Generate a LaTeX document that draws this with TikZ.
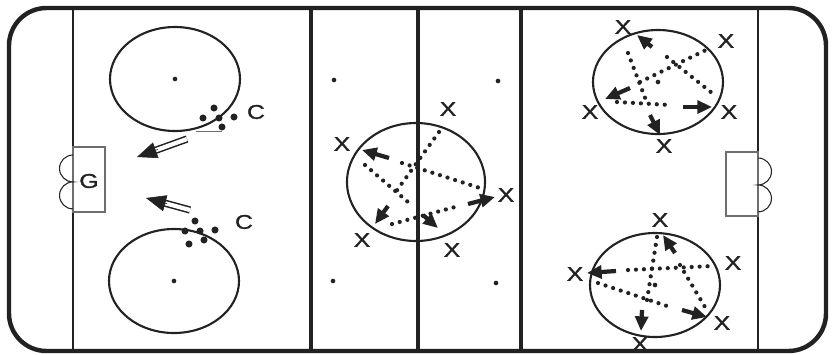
\documentclass[tikz,border=0pt]{standalone}
\usepackage{fontspec}
\setmainfont{Liberation Sans}
\newfontfamily\markfont{Liberation Sans}[FakeBold=1.2]
\usetikzlibrary{arrows.meta, calc}

\definecolor{ink}{HTML}{222222}
\definecolor{boxgray}{HTML}{6E6E6E}

\begin{document}
\begin{tikzpicture}[x=0.03cm, y=-0.03cm, thick,
    player/.style={font=\markfont\fontsize{17}{17}\selectfont, xscale=1.25, text=ink, inner sep=0pt},
    pass/.style={ink, line width=3.6pt, line cap=round, dash pattern=on 0pt off 6.8pt},
    skate/.style={ink, line width=3.6pt, -{Triangle[length=12.5pt, width=11pt]}},
    faceoff/.style={ink, line width=1.8pt},
    spot/.style={fill=ink, draw=none}]

    \useasboundingbox (0,0) rectangle (835,354);

    % Boards
    \draw[ink, line width=3.8pt, rounded corners=32pt] (9,8) rectangle (826,351);

    % Goal lines, blue lines, red line
    \draw[ink, line width=1.8pt] (73,8) -- (73,351);
    \draw[ink, line width=1.8pt] (758,8) -- (758,351);
    \foreach \x in {311, 521}
        \draw[ink, line width=3.5pt] (\x,8) -- (\x,351);
    \draw[ink, line width=4.2pt] (418,8) -- (418,351);

    % Nets
    \draw[boxgray, line width=0.9pt] (73,147) rectangle (105,212);
    \node[player] (g) at (89,181) {G};
    \draw[ink, line width=0.9pt] (73,155) arc[start angle=90, end angle=270, radius=11.5pt]
        arc[start angle=90, end angle=270, radius=11.5pt];
    \draw[boxgray, line width=0.9pt] (726,152) rectangle (758,216);
    \draw[ink, line width=0.9pt] (758,158) arc[start angle=90, end angle=-90, radius=11.5pt]
        arc[start angle=90, end angle=-90, radius=11.5pt];

    % Faceoff circles
    \foreach \x/\y in {175/79, 174/281, 658/82, 655/285}
        \draw[faceoff] (\x,\y) circle[x radius=65, y radius=52];
    \draw[faceoff] (416,182) circle[x radius=69, y radius=59];

    % Faceoff spots
    \foreach \x/\y in {175/79, 174/281, 658/82, 655/285, 334/80, 498/81, 333/281, 496/283}
        \fill[spot] (\x,\y) circle (2pt);

    % Left zone: coaches with pucks
    \foreach \x/\y in {214/108, 203/118, 219/118, 234/117, 222/127,
                       195/221, 185/231, 200/231, 215/230, 189/244, 204/240}
        \fill[spot] (\x,\y) circle (3pt);
    \draw[boxgray, line width=0.6pt] (196,131) -- (222,131);
    \node[player] (c-top) at (256,112) {C};
    \node[player] (c-bot) at (244,222) {C};

    % Shots on goal
    \coordinate (shot1) at (137,157);
    \coordinate (from1) at (187,139);
    \coordinate (shot2) at (146,198);
    \coordinate (from2) at (190,210);
    \draw[ink, line width=1.3pt, double, double distance=3.6pt] (from1) -- ($(shot1)!0.34!(from1)$);
    \draw[ink, line width=0.5pt, -{Triangle[length=17pt, width=14pt]}] ($(shot1)!0.42!(from1)$) -- (shot1);
    \draw[ink, line width=1.3pt, double, double distance=3.6pt] (from2) -- ($(shot2)!0.4!(from2)$);
    \draw[ink, line width=0.5pt, -{Triangle[length=17pt, width=14pt]}] ($(shot2)!0.48!(from2)$) -- (shot2);

    % Neutral zone: passing star
    \foreach \x/\y [count=\i] in {448/109, 342/144, 506/195, 362/240, 452/250}
        \node[player] (n\i) at (\x,\y) {X};
    \draw[pass] (439,132) -- (395,193);
    \draw[pass] (365,165) -- (408,202);
    \draw[pass] (402,163) -- (480,188);
    \draw[pass] (392,224) -- (455,207);
    \foreach \a/\b/\c/\d in {389/158/362/150, 388/206/375/224, 423/215/438/228, 468/204/495/197}
        \draw[skate] (\a,\b) -- (\c,\d);

    % Right zone, top circle
    \foreach \x/\y [count=\i] in {623/27, 726/41, 590/112, 729/112, 664/146}
        \node[player] (t\i) at (\x,\y) {X};
    \draw[pass] (628,53) -- (647,103);
    \draw[pass] (640,82) -- (708,49);
    \draw[pass] (667,57) -- (712,93);
    \draw[pass] (617,102) -- (670,105);
    \foreach \a/\b/\c/\d in {652/47/637/35, 630/88/605/99, 683/107/712/107, 650/115/660/135}
        \draw[skate] (\a,\b) -- (\c,\d);

    % Right zone, bottom circle
    \foreach \x/\y [count=\i] in {660/220, 733/263, 575/274, 722/323, 640/344}
        \node[player] (b\i) at (\x,\y) {X};
    \draw[pass] (657,237) -- (647,300);
    \draw[pass] (628,270) -- (713,266);
    \draw[pass] (680,265) -- (705,307);
    \draw[pass] (598,283) -- (667,306);
    \foreach \a/\b/\c/\d in {675/253/663/235, 616/271/587/273, 642/310/641/331, 682/310/707/317}
        \draw[skate] (\a,\b) -- (\c,\d);

\end{tikzpicture}
\end{document}
